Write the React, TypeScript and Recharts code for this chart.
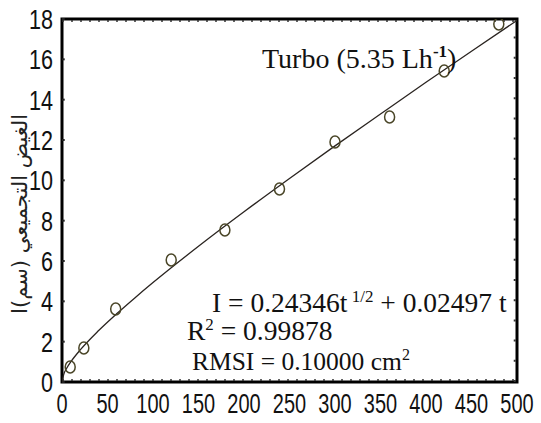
import React from "react";
import { ComposedChart, Line, Scatter, XAxis, YAxis, ReferenceArea, ReferenceLine } from "recharts";

const TICK_FONT = "'Liberation Sans', Arial, sans-serif";
const SERIF = "Liberation Serif, Times New Roman, serif";

// measured infiltration (time, cumulative depth)
const obsTime = [9, 24, 59, 120, 179, 239, 300, 360, 420, 480];
const obsDepth = [0.74, 1.69, 3.62, 6.05, 7.54, 9.57, 11.9, 13.14, 15.42, 17.75];

// fitted curve
const fitTime = [0, 2, 5, 10, 20, 40, 60, 80, 100, 150, 200, 250, 300, 350, 400, 450, 500];
const fitDepth = [0, 0.39, 0.67, 1.02, 1.59, 2.54, 3.38, 4.17, 4.93, 6.73, 8.44, 10.09, 11.71, 13.29, 14.86, 16.4, 17.93];

const xTicks = [0, 50, 100, 150, 200, 250, 300, 350, 400, 450, 500];
const yTicks = [0, 2, 4, 6, 8, 10, 12, 14, 16, 18];

const observed = obsTime.map((t, i) => ({ t, I: obsDepth[i] }));
const fitted = fitTime.map((t, i) => ({ t, I: fitDepth[i] }));

// narrow sans look, squeezed horizontally
const XTick = (props: any) => {
  const { x, y, payload } = props;
  return (
    <text
      transform={`translate(${x},${y + 23}) scale(0.74,1.05)`}
      textAnchor="middle"
      fill="#111"
      style={{ fontFamily: TICK_FONT, fontSize: 27 }}
    >
      {payload.value}
    </text>
  );
};

const YTick = (props: any) => {
  const { x, y, payload } = props;
  return (
    <text
      transform={`translate(${x - 1},${y + 10}) scale(0.8,1.05)`}
      textAnchor="end"
      fill="#111"
      style={{ fontFamily: TICK_FONT, fontSize: 27 }}
    >
      {payload.value}
    </text>
  );
};

const Ring = (props: any) => {
  const { cx, cy } = props;
  return <ellipse cx={cx} cy={cy} rx={5} ry={6} fill="none" stroke="#4a4628" strokeWidth={1.5} />;
};

export default function App() {
  return (
    <div style={{ position: "absolute", left: 0, top: 0, width: 541, height: 423, background: "#fff" }}>
      <ComposedChart width={541} height={423} margin={{ top: 19, right: 24, bottom: 0, left: 0 }}>
        <XAxis
          type="number"
          dataKey="t"
          domain={[0, 500]}
          ticks={xTicks}
          height={41}
          tick={<XTick />}
          tickLine={false}
          axisLine={false}
          allowDataOverflow
        />
        <YAxis
          type="number"
          dataKey="I"
          domain={[0, 18]}
          ticks={yTicks}
          width={62}
          tick={<YTick />}
          tickLine={false}
          axisLine={false}
          allowDataOverflow
        />
        <ReferenceLine y={17.9} stroke="#333" strokeDasharray="2 7" strokeWidth={1.5} />
        <ReferenceLine y={0.1} stroke="#333" strokeDasharray="2 7" strokeWidth={1.5} />
        <ReferenceLine x={497.5} stroke="#333" strokeDasharray="2 18.2" strokeWidth={2} />
        {yTicks.map((v) => (
          <ReferenceLine
            key={v}
            segment={[{ x: 0, y: v }, { x: 3, y: v }]}
            stroke="#222"
            strokeWidth={2}
          />
        ))}
        <ReferenceArea x1={0} x2={500} y1={0} y2={18} fill="none" stroke="#000" strokeWidth={3} fillOpacity={0} />
        <Line
          data={fitted}
          dataKey="I"
          type="monotone"
          dot={false}
          stroke="#2a2420"
          strokeWidth={1.3}
          isAnimationActive={false}
        />
        <Scatter data={observed} dataKey="I" shape={<Ring />} isAnimationActive={false} />
      </ComposedChart>

      <svg width={541} height={423} style={{ position: "absolute", left: 0, top: 0, pointerEvents: "none" }}>
        <text
          transform="translate(27,214) rotate(-90)"
          textAnchor="middle"
          direction="rtl"
          fill="#222"
          fontFamily="DejaVu Sans, sans-serif"
          fontSize={21}
        >
          الغيض التجميعي (سم)I
        </text>
        <text x={262} y={68} fill="#111" fontFamily={SERIF} fontSize={28}>
          <tspan>Turbo (5.35 Lh</tspan>
          <tspan dy={-11} fontSize={17} fontWeight="bold">-1</tspan>
          <tspan dy={11}>)</tspan>
        </text>
        <text x={212} y={312} fill="#111" fontFamily={SERIF} fontSize={27.5}>
          <tspan>I = 0.24346t</tspan>
          <tspan dy={-10} fontSize={17}> 1/2</tspan>
          <tspan dy={10}> + 0.02497 t</tspan>
        </text>
        <text x={187} y={340} fill="#111" fontFamily={SERIF} fontSize={27.5}>
          <tspan>R</tspan>
          <tspan dy={-10} fontSize={17}>2</tspan>
          <tspan dy={10}> = 0.99878</tspan>
        </text>
        <text x={192} y={370} fill="#111" fontFamily={SERIF} fontSize={25.5}>
          <tspan>RMSI = 0.10000 cm</tspan>
          <tspan dy={-10} fontSize={16}>2</tspan>
        </text>
      </svg>
    </div>
  );
}
